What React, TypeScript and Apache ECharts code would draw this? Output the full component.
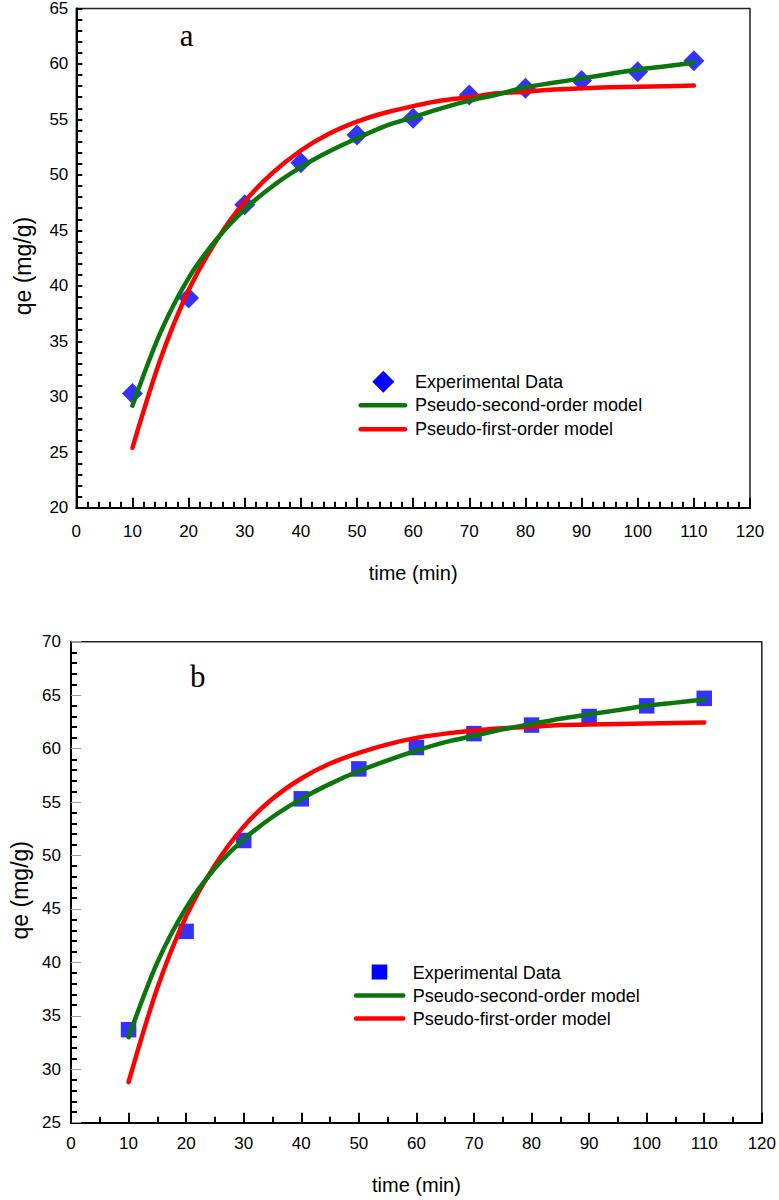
import React, { useEffect, useRef } from "react";
import * as echarts from "echarts";

// ---- data ----
const timeExp = [10, 20, 30, 40, 50, 60, 70, 80, 90, 100, 110];
const qeExpA = [30.3, 38.9, 47.3, 51.1, 53.6, 55.1, 57.2, 57.8, 58.5, 59.3, 60.3];
const qeExpB = [33.7, 42.9, 51.4, 55.3, 58.1, 60.1, 61.4, 62.2, 63.0, 64.0, 64.7];

const timeFit = [10, 15, 20, 25, 30, 35, 40, 45, 50, 55, 60, 65, 70, 75, 80, 85, 90, 95, 100, 105, 110];
const psoA = [29.2, 35.8, 40.7, 44.2, 46.9, 49.0, 50.7, 52.1, 53.3, 54.4, 55.2, 56.0, 56.7, 57.25, 57.9, 58.3, 58.7, 59.1, 59.5, 59.8, 60.1];
const pfoA = [25.4, 33.4, 39.6, 44.1, 47.6, 50.2, 52.2, 53.7, 54.8, 55.6, 56.2, 56.7, 57.0, 57.35, 57.5, 57.7, 57.8, 57.9, 57.95, 58.0, 58.05];
const psoB = [33.0, 40.0, 45.1, 48.8, 51.5, 53.6, 55.3, 56.7, 57.9, 58.9, 59.8, 60.6, 61.2, 61.8, 62.3, 62.8, 63.2, 63.6, 64.0, 64.3, 64.6];
const pfoB = [28.8, 37.6, 44.3, 49.1, 52.7, 55.3, 57.2, 58.6, 59.6, 60.4, 61.0, 61.4, 61.7, 61.9, 62.05, 62.2, 62.25, 62.3, 62.35, 62.4, 62.45];

const legendNames = ["Experimental Data", "Pseudo-second-order model", "Pseudo-first-order model"];
const panelLabels = ["a", "b"];
const xName = "time (min)";
const yName = "qe (mg/g)";

const BLUE = "#0000ff";
const GREEN = "#0b760b";
const RED = "#ff0000";
const FONT = "Liberation Sans, Arial, sans-serif";

const pairs = (xs: number[], ys: number[]) => xs.map((x, i) => [x, ys[i]]);

export default function App() {
  const ref = useRef<HTMLDivElement>(null);
  useEffect(() => {
    if (!ref.current) return;
    const chart = echarts.init(ref.current, null, { renderer: "svg" });

    const xAxisBase = (gridIndex: number, minorSplit: number, nameGap: number, labelMargin: number) => ({
      type: "value",
      gridIndex,
      min: 0,
      max: 120,
      interval: 10,
      name: xName,
      nameLocation: "middle",
      nameGap,
      nameTextStyle: { fontSize: 20, color: "#000", fontFamily: FONT },
      axisLine: { show: true, onZero: false, lineStyle: { color: "#000", width: 2 } },
      axisTick: { show: true, inside: true, length: 10, lineStyle: { color: "#000", width: 2 } },
      minorTick: { show: true, splitNumber: minorSplit, length: 6, lineStyle: { color: "#000", width: 2 } },
      axisLabel: { fontSize: 17, color: "#000", margin: labelMargin, fontFamily: FONT },
      splitLine: { show: false },
      minorSplitLine: { show: false },
    });

    const yAxisBase = (gridIndex: number, min: number, max: number, nameGap: number, labelMargin: number, majorTick: any) => ({
      type: "value",
      gridIndex,
      min,
      max,
      interval: 5,
      name: yName,
      nameLocation: "middle",
      nameGap,
      nameTextStyle: { fontSize: 23, color: "#000", fontFamily: FONT, padding: [0, 16, 0, 0] },
      axisLine: { show: true, onZero: false, lineStyle: { color: "#000", width: 2 } },
      axisTick: majorTick,
      minorTick: { show: true, splitNumber: 5, length: 6, lineStyle: { color: "#000", width: 2 } },
      axisLabel: { fontSize: 17, color: "#000", margin: labelMargin, fontFamily: FONT },
      splitLine: { show: false },
      minorSplitLine: { show: false },
    });

    const lineSeries = (name: string, xi: number, data: number[][], color: string, z: number) => ({
      type: "line",
      name,
      xAxisIndex: xi,
      yAxisIndex: xi,
      data,
      smooth: 0.3,
      showSymbol: false,
      symbol: "none",
      z,
      lineStyle: { color, width: 4.5, cap: "round", join: "round" },
    });

    const legendGroup = (
      symbol: any,
      lineX1: number,
      lineX2: number,
      ys: number[],
      textX: number
    ) => [
      symbol,
      { type: "line", shape: { x1: lineX1, y1: ys[1], x2: lineX2, y2: ys[1] }, style: { stroke: GREEN, lineWidth: 4.5, lineCap: "round" } },
      { type: "line", shape: { x1: lineX1, y1: ys[2], x2: lineX2, y2: ys[2] }, style: { stroke: RED, lineWidth: 4.5, lineCap: "round" } },
      ...legendNames.map((t, i) => ({
        type: "text",
        x: textX,
        y: ys[i],
        style: { text: t, fontSize: 18, fontFamily: FONT, fill: "#000", verticalAlign: "middle", align: "left" },
      })),
    ];

    const option: any = {
      animation: false,
      backgroundColor: "#fff",
      grid: [
        { left: 76.3, top: 8.3, width: 673.7, height: 499.4, show: true, borderColor: "#222", borderWidth: 1.5, backgroundColor: "transparent" },
        { left: 70, top: 641.7, width: 692.7, height: 481, show: true, borderColor: "#222", borderWidth: 1.5, backgroundColor: "transparent" },
      ],
      xAxis: [xAxisBase(0, 5, 55, 15), xAxisBase(1, 2, 52, 12)],
      yAxis: [
        yAxisBase(0, 20, 65, 42, 8, { show: true, inside: true, length: 6, lineStyle: { color: "#000", width: 2 } }),
        yAxisBase(1, 25, 70, 40, 10, { show: true, inside: true, length: 10, lineStyle: { color: "#999", width: 1 } }),
      ],
      series: [
        {
          type: "scatter",
          name: legendNames[0],
          xAxisIndex: 0,
          yAxisIndex: 0,
          data: pairs(timeExp, qeExpA),
          symbol: "diamond",
          symbolSize: 21,
          itemStyle: { color: BLUE },
          z: 2,
        },
        lineSeries(legendNames[2], 0, pairs(timeFit, pfoA), RED, 3),
        lineSeries(legendNames[1], 0, pairs(timeFit, psoA), GREEN, 4),
        {
          type: "scatter",
          name: legendNames[0],
          xAxisIndex: 1,
          yAxisIndex: 1,
          data: pairs(timeExp, qeExpB),
          symbol: "rect",
          symbolSize: 15.5,
          itemStyle: { color: BLUE },
          z: 2,
        },
        lineSeries(legendNames[2], 1, pairs(timeFit, pfoB), RED, 3),
        lineSeries(legendNames[1], 1, pairs(timeFit, psoB), GREEN, 4),
      ],
      graphic: [
        {
          type: "text",
          x: 186.7,
          y: 35,
          style: { text: panelLabels[0], fontSize: 31, fontFamily: "Liberation Serif, Times New Roman, serif", fill: "#000", align: "center", verticalAlign: "middle" },
        },
        {
          type: "text",
          x: 197.7,
          y: 676,
          style: { text: panelLabels[1], fontSize: 31, fontFamily: "Liberation Serif, Times New Roman, serif", fill: "#000", align: "center", verticalAlign: "middle" },
        },
        ...legendGroup(
          { type: "polygon", shape: { points: [[383.3, 370.7], [394.3, 381.7], [383.3, 392.7], [372.3, 381.7]] }, style: { fill: BLUE } },
          360.7,
          405,
          [381.7, 405.3, 429.3],
          415
        ),
        ...legendGroup(
          { type: "rect", shape: { x: 371.7, y: 964.5, width: 15.6, height: 15 }, style: { fill: BLUE } },
          356,
          403.3,
          [973.3, 995.5, 1018.5],
          412.7
        ),
      ],
    };

    chart.setOption(option);
    return () => chart.dispose();
  }, []);

  return <div ref={ref} style={{ position: "absolute", left: 0, top: 0, width: 779, height: 1200 }} />;
}
